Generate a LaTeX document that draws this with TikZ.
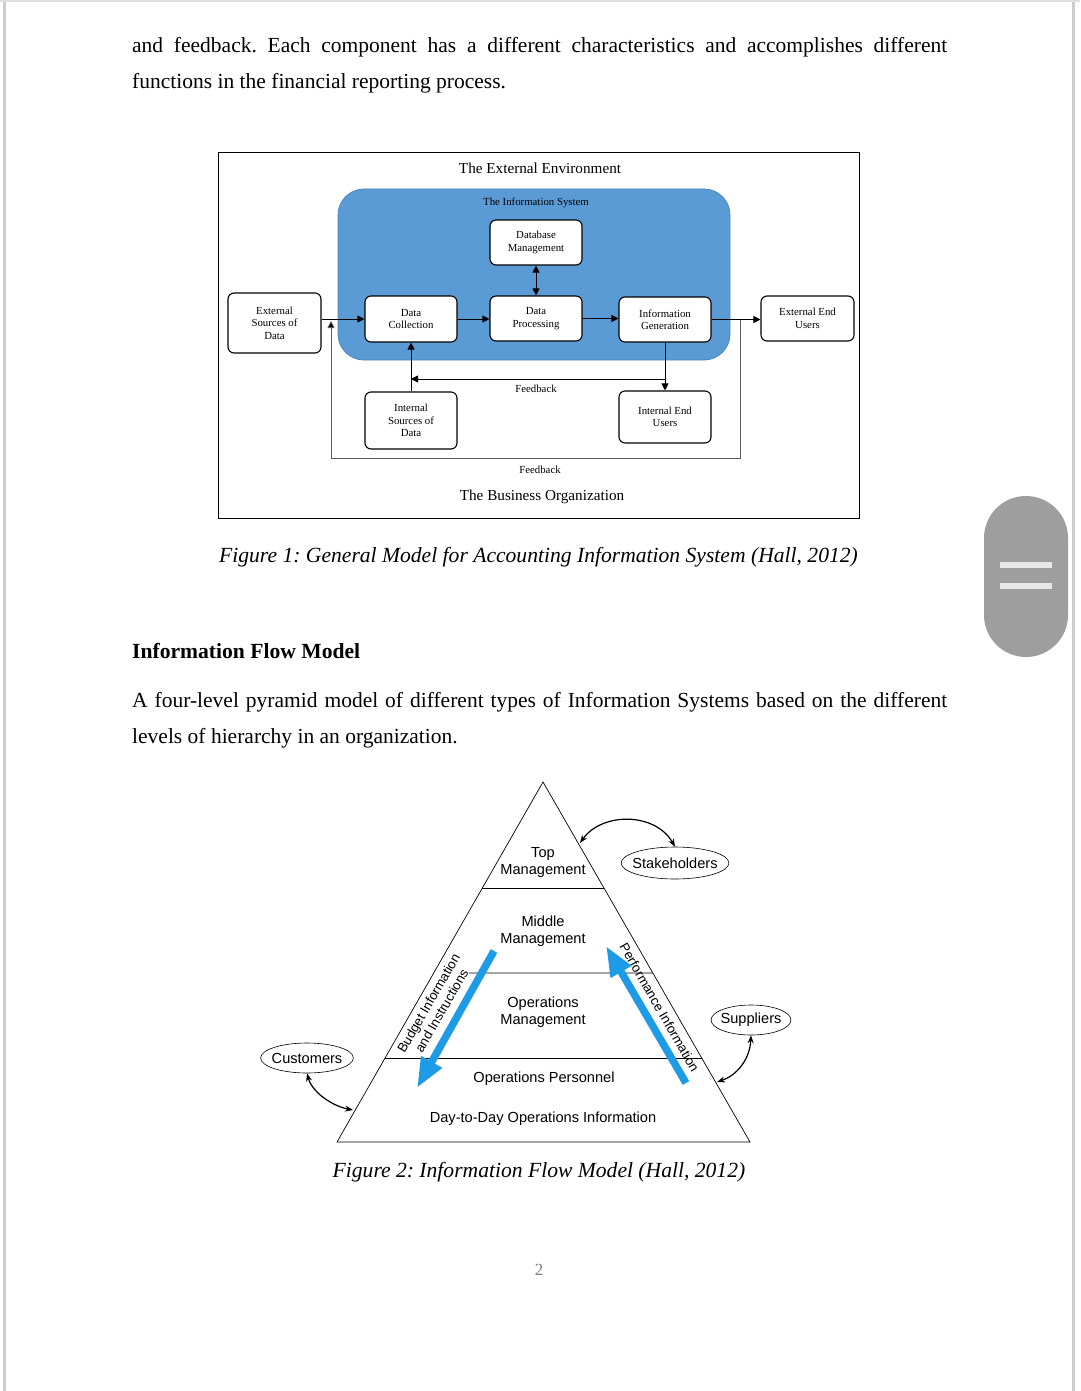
\documentclass[tikz,border=0pt]{standalone}
\usepackage{fontspec}
\setmainfont{Liberation Serif}
\newfontfamily\arialf{Liberation Sans}
\usetikzlibrary{arrows.meta,shapes.geometric,calc}
\definecolor{isblue}{HTML}{5B9BD5}
\definecolor{isborder}{HTML}{4A86C0}
\definecolor{flowblue}{HTML}{1E9BE6}
\definecolor{pagegrey}{HTML}{CCCCCC}
\definecolor{pillgrey}{HTML}{9E9E9E}
\definecolor{barwhite}{HTML}{E8E8E8}
\frenchspacing
\begin{document}
\begin{tikzpicture}[x=1pt,y=-1pt,
  body/.style={anchor=base west,inner sep=0pt,font=\fontsize{21.5}{26}\selectfont},
  figcap/.style={anchor=base,inner sep=0pt,font=\fontsize{21.6}{26}\selectfont\itshape},
  fbox/.style={draw,line width=1.1pt,rounded corners=6pt,fill=white,align=center,inner sep=0pt,font=\fontsize{10.8}{12.5}\selectfont},
  farr/.style={-{Triangle[length=7pt,width=7pt]},line width=0.9pt},
  fbarr/.style={{Triangle[length=7pt,width=7pt]}-{Triangle[length=7pt,width=7pt]},line width=0.9pt},
  flbl/.style={inner sep=0pt,font=\fontsize{10.8}{12.5}\selectfont},
  plbl/.style={inner sep=0pt,align=center,font=\arialf\fontsize{14.6}{17}\selectfont},
  rlbl/.style={inner sep=0pt,align=center,font=\arialf\fontsize{13.2}{15}\selectfont},
  ell/.style={ellipse,draw,line width=0.6pt,inner ysep=0pt,font=\arialf\fontsize{14.6}{17}\selectfont},
  curv/.style={{Stealth[length=8pt,width=6pt]}-{Stealth[length=8pt,width=6pt]},line width=1.2pt},
  bigarr/.style={-{Triangle[length=30pt,width=22pt]},line width=7.5pt,flowblue}
]
\useasboundingbox (0,0) rectangle (1080,1391);
\fill[white] (0,0) rectangle (1080,1391);
\draw[pagegrey,line width=3pt] (4,0) -- (4,1391);
\draw[pagegrey,line width=3pt] (1073,0) -- (1073,1391);
\draw[pagegrey!60,line width=1.5pt] (0,1) -- (1080,1);

% body text
\node[body] (t1) at (132,53) {\makebox[815pt][s]{and feedback. Each component has a different characteristics and accomplishes different}};
\node[body] (t2) at (132,89) {functions in the financial reporting process.};

% ---------- Figure 1 ----------
\node[draw,line width=1pt,minimum width=641,minimum height=365,inner sep=0pt] (extenv) at (538.5,335.5) {};
\node[inner sep=0pt,font=\fontsize{15.2}{18}\selectfont] (extlbl) at (540,168) {The External Environment};
\node[fill=isblue,draw=isborder,line width=0.8pt,rounded corners=26pt,minimum width=392,minimum height=171,inner sep=0pt] (isys) at (534,274.5) {};
\node[flbl] (islbl) at (536,203) {The Information System};

\node[fbox,minimum width=92,minimum height=45] (dbm) at (536,242.5) {Database\\Management};
\node[fbox,minimum width=93,minimum height=60] (extsrc) at (274.5,323) {External\\Sources of\\Data};
\node[fbox,minimum width=92,minimum height=46] (dcoll) at (411,319) {Data\\Collection};
\node[fbox,minimum width=92,minimum height=45] (dproc) at (536,318.5) {Data\\Processing};
\node[fbox,minimum width=92,minimum height=45] (infogen) at (665,319.5) {Information\\Generation};
\node[fbox,minimum width=93,minimum height=45] (extend) at (807.5,318.5) {External End\\Users};
\node[fbox,minimum width=92,minimum height=57] (intsrc) at (411,420.5) {Internal\\Sources of\\Data};
\node[fbox,minimum width=92,minimum height=52] (intend) at (665,417) {Internal End\\Users};

\draw[farr] (extsrc.east |- dcoll.west) -- (dcoll.west);
\draw[farr] (dcoll.east) -- (dproc.west |- dcoll.east);
\draw[farr] (dproc.east) -- (infogen.west |- dproc.east);
\draw[farr] (infogen.east) -- (extend.west |- infogen.east);
\draw[fbarr] (dbm.south) -- (dproc.north);

\coordinate (fbR) at (740,319.5);
\coordinate (fbL) at (331,321);
\draw[gray!70!black,line width=0.8pt,-{Triangle[length=7pt,width=7pt,fill=black]}] (fbR) -- (740,458) -- (331,458) -- (fbL);
\draw[farr] (infogen.south) -- (intend.north);
\coordinate (fbI) at (665,379);
\coordinate (fbC) at (411,379);
\draw[farr] (fbI) -- (fbC);
\draw[farr] (intsrc.north) -- (dcoll.south);
\node[flbl] (fb1) at (536,389) {Feedback};
\node[flbl] (fb2) at (540,470) {Feedback};
\node[inner sep=0pt,font=\fontsize{15.2}{18}\selectfont] (buslbl) at (542,497) {The Business Organization};

\node[figcap] (cap1) at (538.5,562) {Figure 1: General Model for Accounting Information System (Hall, 2012)};

% scrollbar pill
\fill[pillgrey,rounded corners=42pt] (984,496) rectangle (1068,657);
\fill[barwhite] (1000,562) rectangle (1052,567.5);
\fill[barwhite] (1000,583) rectangle (1052,588.5);

% heading and paragraph
\node[body,font=\fontsize{21.6}{26}\selectfont\bfseries] (head) at (132,658) {Information Flow Model};
\node[body] (t3) at (132,707) {\makebox[815pt][s]{A four-level pyramid model of different types of Information Systems based on the different}};
\node[body] (t4) at (132,743) {levels of hierarchy in an organization.};

% ---------- Figure 2 ----------
\coordinate (apex) at (543,782);
\coordinate (bl) at (337,1142);
\coordinate (br) at (750,1142);
\draw[line width=0.7pt] (apex) -- (bl) -- (br) -- cycle;
\draw[line width=0.7pt] ($(apex)!0.2944!(bl)$) -- ($(apex)!0.2944!(br)$);
\draw[line width=0.7pt] (469,973) -- ($(apex)!0.5306!(br)$);
\draw[line width=0.7pt] ($(apex)!0.7667!(bl)$) -- ($(apex)!0.7667!(br)$);

\node[plbl] (top) at (543,862) {Top\\Management};
\node[plbl] (mid) at (543,931) {Middle\\Management};
\node[plbl] (opm) at (543,1012) {Operations\\Management};
\node[plbl] (opp) at (544,1079) {Operations Personnel};
\node[plbl] (d2d) at (543,1119) {Day-to-Day Operations Information};

\node[rlbl,rotate=60] (budget) at (435,1007) {Budget Information\\and Instructions};
\node[rlbl,rotate=-60] (perf) at (659.5,1007.5) {Performance Information};

\coordinate (ba1) at (494,951);
\coordinate (ba2) at (417,1088);
\draw[bigarr] (ba1) -- (ba2);
\coordinate (pa1) at (686,1083);
\coordinate (pa2) at (606,946);
\draw[bigarr] (pa1) -- (pa2);

\node[ell,inner xsep=-4.5pt,minimum height=32] (stake) at (675,863) {Stakeholders};
\node[ell,inner xsep=-2.2pt,minimum height=30] (supp) at (751,1020) {Suppliers};
\node[ell,inner xsep=-2.5pt,minimum height=30] (cust) at (307,1058) {Customers};

\coordinate (stE) at (580,843);
\draw[curv] (stE) .. controls (602,812) and (655,812) .. (stake.north);
\coordinate (suE) at (717,1082);
\draw[curv] (supp.south) .. controls (750,1058) and (738,1075) .. (suE);
\coordinate (cuE) at (353,1110);
\draw[curv] (cust.south) .. controls (312,1092) and (332,1106) .. (cuE);

\node[figcap] (cap2) at (539,1177) {Figure 2: Information Flow Model (Hall, 2012)};
\node[anchor=base,inner sep=0pt,text=gray,font=\fontsize{17}{20}\selectfont] (pg) at (539,1275) {2};
\end{tikzpicture}
\end{document}
